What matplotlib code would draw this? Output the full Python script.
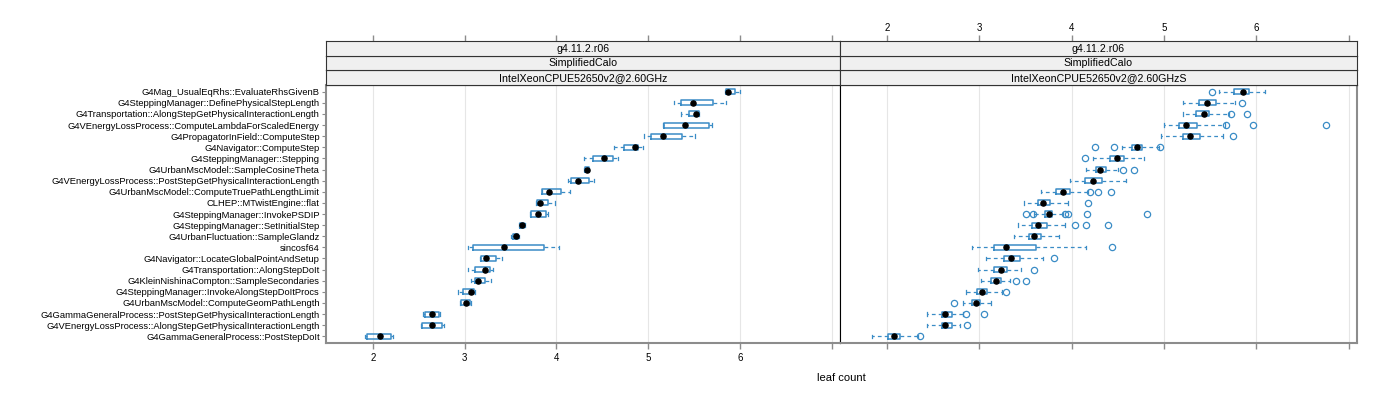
import matplotlib
matplotlib.use('Agg')
import matplotlib.pyplot as plt

plt.rcParams['font.family'] = ['Liberation Sans', 'DejaVu Sans']

# categories, top to bottom
functions = [
    'G4Mag_UsualEqRhs::EvaluateRhsGivenB',
    'G4SteppingManager::DefinePhysicalStepLength',
    'G4Transportation::AlongStepGetPhysicalInteractionLength',
    'G4VEnergyLossProcess::ComputeLambdaForScaledEnergy',
    'G4PropagatorInField::ComputeStep',
    'G4Navigator::ComputeStep',
    'G4SteppingManager::Stepping',
    'G4UrbanMscModel::SampleCosineTheta',
    'G4VEnergyLossProcess::PostStepGetPhysicalInteractionLength',
    'G4UrbanMscModel::ComputeTruePathLengthLimit',
    'CLHEP::MTwistEngine::flat',
    'G4SteppingManager::InvokePSDIP',
    'G4SteppingManager::SetInitialStep',
    'G4UrbanFluctuation::SampleGlandz',
    'sincosf64',
    'G4Navigator::LocateGlobalPointAndSetup',
    'G4Transportation::AlongStepDoIt',
    'G4KleinNishinaCompton::SampleSecondaries',
    'G4SteppingManager::InvokeAlongStepDoItProcs',
    'G4UrbanMscModel::ComputeGeomPathLength',
    'G4GammaGeneralProcess::PostStepGetPhysicalInteractionLength',
    'G4VEnergyLossProcess::AlongStepGetPhysicalInteractionLength',
    'G4GammaGeneralProcess::PostStepDoIt',
]

strip_top = 'g4.11.2.r06'
strip_mid = 'SimplifiedCalo'
machines = ['IntelXeonCPUE52650v2@2.60GHz', 'IntelXeonCPUE52650v2@2.60GHzS']

# panel 1: IntelXeonCPUE52650v2@2.60GHz
lo_a = [5.84, 5.28, 5.36, 5.16, 4.96, 4.63, 4.30, 4.30, 4.13, 3.84, 3.78, 3.71,
        3.59, 3.51, 3.04, 3.17, 3.04, 3.07, 2.93, 2.95, 2.55, 2.53, 1.91]
q1_a = [5.85, 5.36, 5.44, 5.17, 5.03, 4.74, 4.40, 4.31, 4.16, 3.84, 3.79, 3.72,
        3.60, 3.53, 3.09, 3.18, 3.11, 3.11, 2.98, 2.96, 2.57, 2.54, 1.94]
med_a = [5.87, 5.49, 5.52, 5.40, 5.16, 4.86, 4.52, 4.33, 4.24, 3.92, 3.82, 3.80,
         3.62, 3.56, 3.43, 3.23, 3.22, 3.15, 3.07, 3.01, 2.65, 2.64, 2.08]
q3_a = [5.95, 5.71, 5.55, 5.66, 5.37, 4.89, 4.62, 4.35, 4.35, 4.05, 3.91, 3.89,
        3.65, 3.58, 3.87, 3.34, 3.28, 3.22, 3.10, 3.06, 2.72, 2.75, 2.20]
hi_a = [6.00, 5.85, 5.55, 5.70, 5.51, 4.94, 4.67, 4.36, 4.41, 4.15, 3.99, 3.91,
        3.66, 3.59, 4.03, 3.41, 3.31, 3.29, 3.11, 3.07, 2.73, 2.78, 2.22]
out_a = [[] for _ in functions]

# panel 2: IntelXeonCPUE52650v2@2.60GHzS
lo_b = [5.60, 5.21, 5.21, 5.00, 4.97, 4.54, 4.23, 4.15, 3.98, 3.67, 3.48, 3.59,
        3.42, 3.38, 2.92, 3.07, 2.98, 3.02, 2.86, 2.82, 2.43, 2.43, 1.84]
q1_b = [5.76, 5.38, 5.35, 5.16, 5.21, 4.65, 4.41, 4.26, 4.14, 3.83, 3.63, 3.71,
        3.57, 3.54, 3.16, 3.27, 3.16, 3.13, 2.97, 2.92, 2.59, 2.59, 2.01]
med_b = [5.85, 5.47, 5.43, 5.24, 5.28, 4.71, 4.49, 4.31, 4.23, 3.91, 3.69, 3.75,
         3.64, 3.59, 3.29, 3.34, 3.23, 3.18, 3.03, 2.96, 2.63, 2.63, 2.08]
q3_b = [5.92, 5.56, 5.49, 5.36, 5.39, 4.76, 4.57, 4.37, 4.33, 3.98, 3.77, 3.79,
        3.73, 3.67, 3.61, 3.44, 3.30, 3.23, 3.08, 3.01, 2.70, 2.70, 2.14]
hi_b = [6.09, 5.77, 5.70, 5.66, 5.64, 4.95, 4.78, 4.50, 4.59, 4.18, 3.96, 3.91,
        3.93, 3.86, 4.16, 3.69, 3.45, 3.33, 3.25, 3.13, 2.82, 2.79, 2.34]
out_b = [
    [5.52],
    [5.84],
    [5.73, 5.90],
    [5.67, 5.96, 6.75],
    [5.75],
    [4.25, 4.46, 4.96],
    [4.14],
    [4.56, 4.67],
    [],
    [4.20, 4.28, 4.43],
    [4.18],
    [3.51, 3.58, 3.93, 3.96, 4.17, 4.82],
    [4.04, 4.16, 4.39],
    [],
    [4.44],
    [3.81],
    [3.59],
    [3.40, 3.50],
    [3.29],
    [2.73],
    [2.85, 3.05],
    [2.87],
    [2.36],
]

x_ticks = [2, 3, 4, 5, 6, 7]
x_labels = ['2', '3', '4', '5', '6', '']

box_col = '#3a8cc6'
frame_col = '#8c8c8c'

fig = plt.figure(figsize=(14, 4), dpi=100)

W, H = 1400.0, 400.0
panel_x = [(326, 840), (840, 1357)]
panel_top, panel_bot = 85, 343
strip_h = (panel_top - 41) / 3.0

n = len(functions)
pos = list(range(n, 0, -1))

panels = [
    (machines[0], lo_a, q1_a, med_a, q3_a, hi_a, out_a),
    (machines[1], lo_b, q1_b, med_b, q3_b, hi_b, out_b),
]

for i, (mach, lo, q1, med, q3, hi, outs) in enumerate(panels):
    x0, x1 = panel_x[i]
    ax = fig.add_axes([x0 / W, 1 - panel_bot / H, (x1 - x0) / W, (panel_bot - panel_top) / H])
    ax.set_xlim(1.49, 7.09)
    ax.set_ylim(0.4, n + 0.6)

    stats = []
    for k in range(n):
        stats.append(dict(whislo=lo[k], q1=q1[k], med=med[k], q3=q3[k],
                          whishi=hi[k], fliers=outs[k]))
    ax.bxp(stats, positions=pos, orientation='horizontal', widths=0.45,
           capwidths=0.3, showfliers=True, patch_artist=False,
           boxprops=dict(color=box_col, lw=1.1),
           whiskerprops=dict(color=box_col, lw=0.9, ls=(0, (3, 2.5))),
           capprops=dict(color=box_col, lw=0.9),
           medianprops=dict(visible=False),
           flierprops=dict(marker='o', markerfacecolor='none',
                           markeredgecolor=box_col, markersize=4.5,
                           markeredgewidth=0.9))
    ax.plot(med, pos, 'o', color='black', markersize=3.7, zorder=5)

    for xv in x_ticks:
        ax.axvline(xv, color='#e6e6e6', lw=0.8, zorder=0)

    ax.set_xticks(x_ticks)
    ax.tick_params(axis='x', direction='out', length=4, width=1, color=frame_col,
                   labelsize=7, pad=3)
    if i == 0:
        ax.set_xticklabels(x_labels)
        ax.set_yticks(pos)
        ax.set_yticklabels(functions, fontsize=6.75)
        ax.tick_params(axis='y', direction='out', length=3, width=0.8,
                       color=frame_col, pad=1.5)
    else:
        ax.set_xticklabels([])
        ax.set_yticks([])
    ax.xaxis.set_ticks_position('bottom')

    for s in ['left', 'right', 'top', 'bottom']:
        ax.spines[s].set_color('black')
        ax.spines[s].set_linewidth(0.8)
    ax.spines['bottom'].set_color(frame_col)
    ax.spines['bottom'].set_linewidth(1.5)
    if i == 0:
        ax.spines['left'].set_color(frame_col)
        ax.spines['left'].set_linewidth(1.5)
    else:
        ax.spines['right'].set_color(frame_col)
        ax.spines['right'].set_linewidth(1.5)

    # strips, bottom to top
    for j, txt in enumerate([mach, strip_mid, strip_top]):
        y_top = panel_top - (j + 1) * strip_h
        sax = fig.add_axes([x0 / W, 1 - (y_top + strip_h) / H, (x1 - x0) / W, strip_h / H])
        sax.set_facecolor('#f0f0f0')
        sax.set_xlim(1.49, 7.09)
        sax.set_ylim(0, 1)
        sax.set_yticks([])
        for s in sax.spines.values():
            s.set_color('#333333')
            s.set_linewidth(0.8)
        sax.text(0.5, 0.47, txt, transform=sax.transAxes, ha='center',
                 va='center', fontsize=7.7)
        if j == 2:
            sax.xaxis.set_ticks_position('top')
            sax.set_xticks(x_ticks)
            sax.tick_params(axis='x', direction='out', length=4, width=1,
                            color=frame_col, labelsize=7, pad=2)
            if i == 1:
                sax.set_xticklabels(x_labels)
            else:
                sax.set_xticklabels([])
        else:
            sax.set_xticks([])

fig.text(841 / W, 1 - 378 / H, 'leaf count', ha='center', va='center', fontsize=8)

fig.savefig('out.png', dpi=100)
